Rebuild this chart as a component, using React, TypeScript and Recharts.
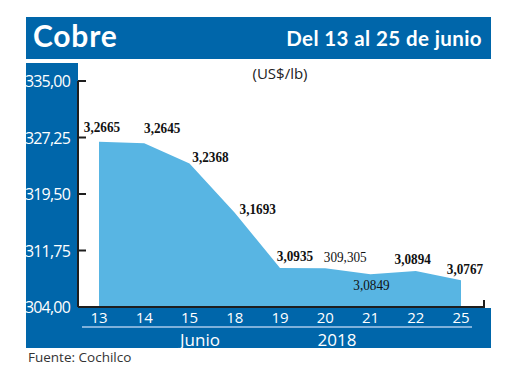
import React from 'react';
import { AreaChart, Area, XAxis, YAxis, LabelList } from 'recharts';

// precio del cobre, centavos US$/lb
const days = ['13', '14', '15', '18', '19', '20', '21', '22', '25'];
const prices = [326.65, 326.45, 323.68, 316.93, 309.35, 309.305, 308.49, 308.94, 307.67];
const priceLabels = ['3,2665', '3,2645', '3,2368', '3,1693', '3,0935', '309,305', '3,0849', '3,0894', '3,0767'];
const yTicks = [304, 311.75, 319.5, 327.25, 335];

const data = days.map((d, i) => ({ day: d, price: prices[i], label: priceLabels[i] }));

// label placement relative to each point (dx, dy to label centre)
const labelOffsets: [number, number][] = [
  [3, -15], [18, -16], [21, -7], [23, -4], [15, -12], [20, -12], [1, 10], [-3, -12], [4, -12],
];
const lightLabels = [5, 6];

const BLUE = '#0066aa';
const AREA = '#58b5e3';
const INK = '#1e1e1e';

const fmt = (v: number) => v.toFixed(2).replace('.', ',');

const YTick = (props: any) => {
  const { x, y, payload } = props;
  return (
    <g>
      <line x1={x + 8} x2={x + 16} y1={y} y2={y} stroke={INK} strokeWidth={2} />
      <text x={x} y={y} textAnchor="end" dominantBaseline="central" fill="#fff"
        fontFamily="Open Sans" fontSize={16} letterSpacing={-0.8}>
        {fmt(payload.value)}
      </text>
    </g>
  );
};

const PriceLabel = (props: any) => {
  const { x, y, index, value } = props;
  const [dx, dy] = labelOffsets[index];
  return (
    <text transform={`translate(${x + dx},${y + dy}) scale(0.88,1)`} textAnchor="middle" dominantBaseline="central"
      fontFamily="Liberation Serif" fontSize={15}
      fontWeight={lightLabels.includes(index) ? 400 : 700} fill="#111">
      {value}
    </text>
  );
};

export default function App() {
  return (
    <div style={{ position: 'absolute', left: 0, top: 0, width: 520, height: 390, background: '#fff' }}>
      <svg width={520} height={390} style={{ position: 'absolute', left: 0, top: 0 }}>
        <rect x={26} y={17} width={465} height={42} fill={BLUE} />
        <rect x={26} y={63} width={52} height={285} fill={BLUE} />
        <rect x={26} y={308} width={465} height={40} fill={BLUE} />
        <text x={33} y={47} fill="#fff" fontFamily="Lato" fontWeight={700} fontSize={30} letterSpacing={0.8}>Cobre</text>
        <text x={482} y={46} textAnchor="end" fill="#fff" fontFamily="Lato" fontWeight={700} fontSize={20.5} letterSpacing={0.4}>
          Del 13 al 25 de junio
        </text>
        <text x={280} y={73} textAnchor="middle" dominantBaseline="central" fill="#222" fontFamily="Open Sans" fontSize={15}>
          (US$/lb)
        </text>
        <line x1={82} x2={472} y1={327} y2={327} stroke="#a9cbeb" strokeWidth={1.5} />
        <text x={200} y={339} textAnchor="middle" dominantBaseline="central" fill="#fff" fontFamily="Open Sans" fontSize={17}>Junio</text>
        <text x={337} y={339} textAnchor="middle" dominantBaseline="central" fill="#fff" fontFamily="Open Sans" fontSize={17}>2018</text>
        <text x={28} y={357} dominantBaseline="central" fill="#333" fontFamily="Open Sans" fontSize={13.5}>Fuente: Cochilco</text>
      </svg>
      <div style={{ position: 'absolute', left: 0, top: 0 }}>
        <AreaChart width={520} height={390} data={data} margin={{ top: 81, right: 36, bottom: 53, left: 26 }}>
          <XAxis dataKey="day" height={30} padding={{ left: 21, right: 23 }} axisLine={{ stroke: INK, strokeWidth: 2 }}
            tickLine={false} tickSize={0} tickMargin={5} interval={0}
            tick={{ fill: '#fff', fontSize: 15, fontFamily: 'Open Sans' }} />
          <YAxis domain={[304, 335]} ticks={yTicks} width={52} axisLine={{ stroke: INK, strokeWidth: 2 }}
            tickLine={false} tickSize={0} tickMargin={8} tick={<YTick />} interval={0} />
          <Area type="linear" dataKey="price" fill={AREA} fillOpacity={1} stroke="none" baseValue={304}
            isAnimationActive={false} dot={false} activeDot={false}>
            <LabelList dataKey="label" content={<PriceLabel />} />
          </Area>
        </AreaChart>
      </div>
      <svg width={520} height={390} style={{ position: 'absolute', left: 0, top: 0, pointerEvents: 'none' }}>
        <line x1={484} x2={484} y1={300} y2={308} stroke={INK} strokeWidth={2} />
      </svg>
    </div>
  );
}
